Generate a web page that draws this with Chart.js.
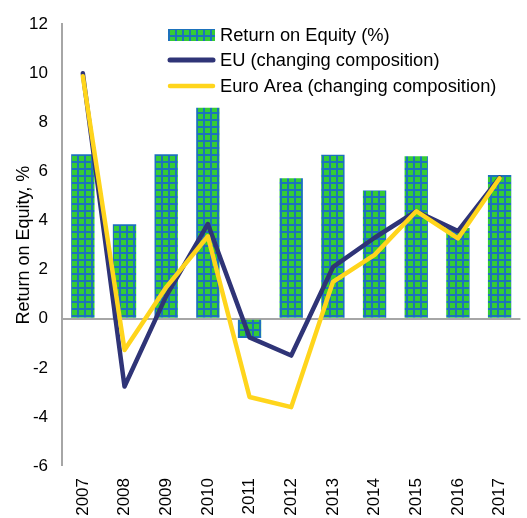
<!DOCTYPE html>
<html>
<head>
<meta charset="utf-8">
<script src="https://cdn.jsdelivr.net/npm/chart.js@4/dist/chart.umd.min.js"></script>
<style>
  html, body { margin: 0; padding: 0; overflow: hidden; background: #fff; }
  #wrap { position: relative; width: 532px; height: 518px; }
</style>
</head>
<body>
<div id="wrap"><canvas id="c" width="532" height="518"></canvas></div>
<script>
const years = ['2007','2008','2009','2010','2011','2012','2013','2014','2015','2016','2017'];
const roe = [6.7, 3.85, 6.7, 8.6, -0.78, 5.72, 6.68, 5.22, 6.62, 3.7, 5.86];
const eu = [10.0, -2.76, 0.92, 3.86, -0.76, -1.5, 2.1, 3.3, 4.38, 3.57, 5.75];
const euroArea = [9.88, -1.27, 1.28, 3.36, -3.19, -3.6, 1.5, 2.6, 4.38, 3.27, 5.72];
const yTicks = [-6, -4, -2, 0, 2, 4, 6, 8, 10, 12];
const seriesNames = ['Return on Equity (%)', 'EU (changing composition)', 'Euro Area (changing composition)'];

const FONT = "'Liberation Sans', Arial, sans-serif";
const GREEN = '#35cc35';
const BLUE = '#1d72bc';
const NAVY = '#2f3477';
const YELLOW = '#ffd51c';
const AXIS = '#a6a6a6';

function makePattern() {
  const p = document.createElement('canvas');
  p.width = 7; p.height = 7;
  const g = p.getContext('2d');
  g.fillStyle = GREEN; g.fillRect(0, 0, 7, 7);
  g.fillStyle = BLUE;
  g.fillRect(0, 0, 2, 7);
  g.fillRect(0, 0, 7, 2);
  return document.getElementById('c').getContext('2d').createPattern(p, 'repeat');
}
const pattern = makePattern();

const legendPlugin = {
  id: 'customLegend',
  afterDraw(chart) {
    const ctx = chart.ctx;
    ctx.save();
    const x0 = 168, x1 = 215, tx = 220;
    const rows = [35, 60, 86];
    ctx.fillStyle = pattern;
    ctx.fillRect(x0, rows[0] - 6, x1 - x0, 12);
    ctx.lineCap = 'round';
    ctx.strokeStyle = NAVY; ctx.lineWidth = 5;
    ctx.beginPath(); ctx.moveTo(x0 + 2, rows[1]); ctx.lineTo(x1 - 2, rows[1]); ctx.stroke();
    ctx.strokeStyle = YELLOW; ctx.lineWidth = 4.5;
    ctx.beginPath(); ctx.moveTo(x0 + 2, rows[2]); ctx.lineTo(x1 - 2, rows[2]); ctx.stroke();
    ctx.fillStyle = '#000';
    ctx.font = '18.3px ' + FONT;
    ctx.textBaseline = 'middle';
    ctx.textAlign = 'left';
    seriesNames.forEach((n, i) => ctx.fillText(n, tx, rows[i] + 1));
    ctx.restore();
  }
};

new Chart(document.getElementById('c'), {
  data: {
    labels: years,
    datasets: [
      { type: 'bar', label: seriesNames[0], data: roe, backgroundColor: pattern, borderWidth: 0,
        barPercentage: 0.56, categoryPercentage: 1.0, order: 3 },
      { type: 'line', label: seriesNames[1], data: eu, borderColor: NAVY, borderWidth: 4.5,
        pointRadius: 0, tension: 0, borderCapStyle: 'round', borderJoinStyle: 'round', fill: false, order: 2 },
      { type: 'line', label: seriesNames[2], data: euroArea, borderColor: YELLOW, borderWidth: 4.5,
        pointRadius: 0, tension: 0, borderCapStyle: 'round', borderJoinStyle: 'round', fill: false, order: 1 }
    ]
  },
  options: {
    responsive: false,
    animation: false,
    layout: { padding: { top: 22, right: 0, left: 0, bottom: 0 } },
    plugins: { legend: { display: false }, tooltip: { enabled: false } },
    scales: {
      x: {
        offset: true,
        grid: { display: false, drawTicks: false },
        border: { display: false },
        ticks: { minRotation: 90, maxRotation: 90, autoSkip: false, padding: 12,
                 color: '#000', font: { family: FONT, size: 17 } },
        afterFit(s) { s.height = 52; }
      },
      y: {
        min: -6, max: 12,
        afterBuildTicks(s) { s.ticks = yTicks.map(v => ({ value: v })); },
        grid: {
          drawTicks: false,
          color: ctx => (ctx.tick && ctx.tick.value === 0) ? AXIS : 'rgba(0,0,0,0)',
          lineWidth: ctx => (ctx.tick && ctx.tick.value === 0) ? 2 : 0
        },
        border: { display: true, color: AXIS, width: 2 },
        ticks: { padding: 14, color: '#000', font: { family: FONT, size: 17 } },
        title: { display: true, text: 'Return on Equity, %', color: '#000',
                 font: { family: FONT, size: 18 }, padding: { top: 13, bottom: 0 } },
        afterFit(s) { s.width = 62; }
      }
    }
  },
  plugins: [legendPlugin]
});
</script>
</body>
</html>
